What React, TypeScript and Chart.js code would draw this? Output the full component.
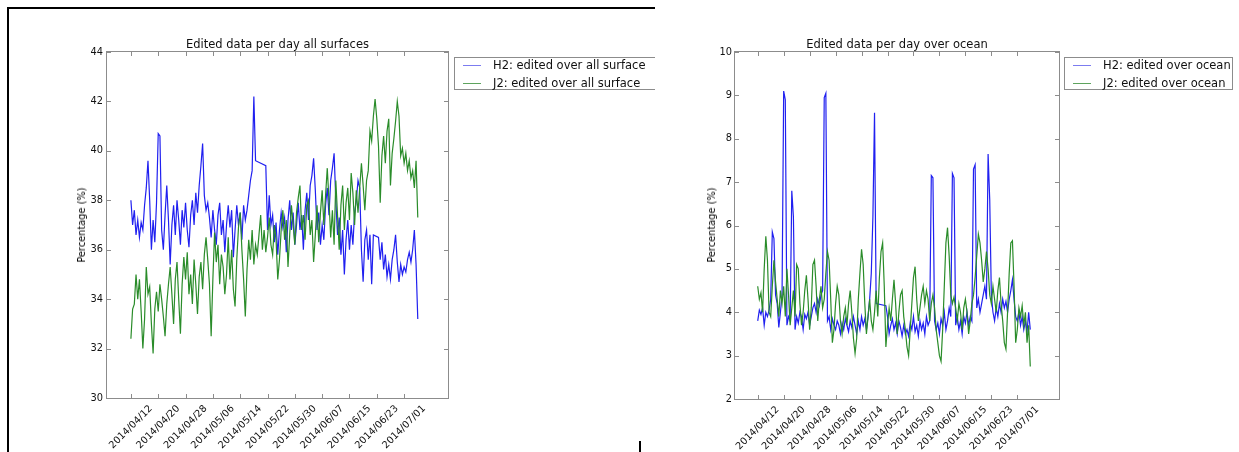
import React, { useEffect, useRef } from "react";
import { Chart, registerables } from "chart.js";

Chart.register(...registerables);

// ---------- data ----------
// samples every half day, starting 2014/04/12 (day 0); null = missing sample
const STEP_DAYS = 0.5;
const TICK_DAYS = [0, 8, 16, 24, 32, 40, 48, 56, 64, 72, 80];
const TICK_LABELS = [
  "2014/04/12", "2014/04/20", "2014/04/28", "2014/05/06", "2014/05/14", "2014/05/22",
  "2014/05/30", "2014/06/07", "2014/06/15", "2014/06/23", "2014/07/01",
];

const surfH2: (number | null)[] = [
  38.0, 37.0, 37.6, 36.6, 37.2, 36.5, 37.1, 36.8, 37.8, 38.5, 39.6, 38.0, 36.0, 37.2, 36.3, 37.9,
  40.7, 40.6, 36.8, 36.0, 37.4, 38.6, 37.2, 35.4, 37.0, 37.8, 36.6, 38.0, 37.2, 36.2, 37.6, 36.9,
  37.9, 36.8, 36.1, 37.4, 38.0, 37.0, 38.3, 37.5, 38.6, 39.4, 40.3, 38.2, 37.6, 37.9, 37.3, 36.5,
  37.6, 36.8, 36.2, 37.4, 37.9, 36.6, 37.2, 35.9, 37.0, 37.8, 36.9, 37.6, 35.7, 36.8, 37.8, 37.0,
  37.5, 36.4, 37.8, 37.2, 37.6, 38.2, 38.8, 39.2, 42.2, 39.6, null, null, null, null, null, 39.4,
  36.8, 38.2, 37.0, 37.4, 36.3, 37.1, 35.8, 36.8, 37.5, 36.9, 37.3, 35.9, 37.2, 38.0, 36.8, 37.5,
  36.2, 37.0, 37.9, 36.8, 37.4, 36.0, 37.6, 38.3, 37.2, 38.6, 39.0, 39.7, 38.4, 36.8, 37.5, 36.2,
  37.0, 36.4, 37.8, 38.5, 37.4, 38.8, 39.3, 39.9, 38.0, 36.6, 37.3, 35.8, 36.8, 35.0, 36.4, 37.2,
  36.0, 37.0, 36.2, 37.5, 38.0, 38.8, 38.5, 36.0, 34.7, 36.4, 36.8, 35.6, 36.6, 34.6, 36.6, null,
  null, 36.5, 35.6, 36.3, 35.2, 35.8, 34.9, 35.4, 34.8, 35.6, 36.0, 36.6, 35.5, 34.7, 35.4, 35.0,
  35.3, 35.1, 35.6, 35.9, 35.5, 36.0, 36.8, 35.4, 33.2,
];

const surfJ2: (number | null)[] = [
  32.4, 33.6, 33.8, 35.0, 34.0, 34.8, 33.5, 32.0, 33.2, 35.3, 34.2, 34.5, 33.0, 31.8, 33.6, 34.3,
  33.5, 34.6, 34.0, 33.3, 32.5, 33.8, 34.6, 35.3, 34.2, 33.0, 34.8, 35.5, 34.0, 32.6, 34.6, 35.7,
  34.8, 35.9, 34.2, 35.0, 33.8, 35.6, 34.6, 33.4, 34.9, 35.5, 34.4, 35.8, 36.5, 35.6, 34.6, 32.5,
  34.8, 36.7, 35.5, 36.2, 34.6, 35.8, 35.3, 34.2, 35.0, 36.5, 34.8, 36.0, 34.4, 33.7, 35.6, 36.9,
  37.5, 36.0, 34.8, 33.3, 35.2, 36.4, 35.6, 36.8, 35.4, 36.2, 35.8, 36.6, 37.4, 36.0, 36.8, 35.9,
  36.5, 37.3, 36.2, 35.8, 37.0, 36.4, 34.8, 35.6, 36.8, 37.6, 36.4, 37.2, 35.3, 36.6, 37.8, 37.0,
  36.2, 37.5, 38.1, 38.6, 36.8, 37.4, 36.4, 37.8, 38.0, 36.6, 37.2, 35.5, 36.6, 37.8, 36.3, 37.5,
  38.4, 37.0, 38.2, 39.3, 38.0, 36.5, 37.6, 36.2, 38.8, 37.4, 36.0, 37.8, 38.6, 36.8, 37.9, 38.5,
  37.2, 39.1, 38.3, 37.0, 38.4, 37.5, 38.5, 39.5, 38.6, 37.6, 38.8, 39.2, 40.8, 40.4, 41.4, 42.1,
  41.3, 40.2, 37.9, 39.8, 40.6, 39.5, 40.8, 41.3, 38.6, 39.9, 40.5, 41.2, 42.0, 41.4, 39.8, 40.1,
  39.5, 39.9, 39.2, 39.6, 38.9, 39.2, 38.5, 39.6, 37.3,
];

const oceanH2: (number | null)[] = [
  3.8, 4.05, 3.95, 4.1, 3.7, 4.0, 3.9, 4.05, 4.3, 5.85, 5.7, 4.4, 4.2, 3.65, 4.0, 4.4,
  9.1, 8.9, 3.7, 3.9, 3.8, 6.8, 6.2, 3.6, 3.9, 3.75, 4.0, 3.9, 3.6, 3.95, 3.85, 4.0,
  3.7, 3.9, 4.1, 4.2, 4.0, 4.3, 4.15, 4.4, 4.5, 8.95, 9.05, 3.8, 3.9, 3.6, 3.85, 3.7,
  3.6, 3.8, 3.7, 3.5, 3.75, 3.6, 3.85, 3.7, 3.55, 3.8, 3.65, 3.9, 3.7, 3.5, 3.8, 3.6,
  3.9, 3.7, 3.85, 3.6, 3.9, 4.3, 4.9, 6.2, 8.6, 4.2, null, null, null, null, null, 4.15,
  3.9, 3.5, 3.7, 3.85, 3.6, 3.75, 3.5, 3.8, 3.65, 3.45, 3.7, 3.5, 3.6, 3.45, 3.75, 3.6,
  3.9, 3.55, 3.7, 3.45, 3.8, 3.6, 3.75, 3.5, 3.9, 3.7, 3.8, 7.15, 7.1, 3.8, 3.6, 3.75,
  3.5, 3.85, 3.7, 4.0, 3.6, 3.8, 4.1, 3.9, 7.2, 7.1, 3.7, 3.9, 3.6, 3.8, 3.5, 3.9,
  3.75, 4.0, 3.7, 3.9, 3.8, 7.3, 7.4, 4.1, 4.3, 4.0, 4.2, 4.4, 4.6, 4.3, 7.65, 6.6,
  4.4, 4.0, 3.8, 4.1, 3.9, 4.2, 4.0, 4.3, 4.1, 4.25, 4.0, 4.3, 4.5, 4.75, 4.3, 3.9,
  3.8, 4.0, 3.7, 3.9, 3.6, 3.8, 3.55, 4.0, 3.6,
];

const oceanJ2: (number | null)[] = [
  4.6, 4.3, 4.45, 4.0, 5.0, 5.75, 5.2, 4.0, 3.9, 4.6, 5.2, 4.7, 4.3, 3.9, 4.5, 4.2,
  4.6, 3.9, 5.0, 4.4, 3.7, 4.1, 4.5, 3.9, 5.1, 5.0, 4.2, 3.7, 4.0, 4.5, 4.85, 4.3,
  3.6, 4.1, 5.1, 5.2, 4.6, 3.8, 4.3, 4.6, 4.1, 4.3, 4.9, 5.4, 5.2, 4.3, 3.3, 3.6,
  4.2, 4.6, 4.4, 3.8, 3.5, 3.9, 4.1, 3.7, 4.2, 4.5, 4.0, 3.4, 3.05, 3.4, 4.3, 4.9,
  5.45, 5.1, 4.2, 3.5, 3.9, 4.3, 3.8, 3.6, 4.0, 4.5, 3.9, 4.8, 5.4, 5.6, 4.6, 3.2,
  3.7, 4.1, 3.8, 4.3, 4.75, 4.2, 3.5, 4.0, 4.4, 4.5, 3.9, 3.6, 3.2, 3.0, 3.6, 4.2,
  4.8, 5.05, 4.3, 3.8, 4.1, 4.4, 4.6, 4.2, 4.5, 4.3, 3.8, 4.2, 4.4, 4.1, 3.6, 3.3,
  3.0, 2.87, 3.6, 4.6, 5.6, 5.95, 5.3, 4.4, 4.2, 4.35, 4.1, 3.8, 4.2, 4.0, 3.6, 4.1,
  4.3, 4.0, 3.5, 3.8, 4.2, 4.4, 4.8, 5.3, 5.8, 5.6, 5.2, 4.7, 5.0, 5.4, 5.0, 4.4,
  4.2, 4.6, 4.3, 4.0, 4.5, 4.8, 4.2, 3.8, 3.3, 3.15, 4.0, 4.9, 5.6, 5.65, 4.6, 3.3,
  3.6, 4.1, 3.9, 4.15, 3.7, 4.0, 3.3, 3.7, 2.75,
];

// ---------- styles ----------
const FONT = "'DejaVu Sans', 'Bitstream Vera Sans', sans-serif";
const BLUE = "#2020f0";
const GREEN = "#2a8c2a";
const BLUE_LEG = "#7c7cf0";
const GREEN_LEG = "#5ea45e";
const FRAME = "#8c8c8c";
const TEXT = "#111";

const toPoints = (vals: (number | null)[]) =>
  vals.map((y, i) => ({ x: i * STEP_DAYS, y }));

const framePlugin = {
  id: "mplFrame",
  afterDraw(chart: any) {
    const { ctx, chartArea: a, scales } = chart;
    ctx.save();
    ctx.strokeStyle = FRAME;
    ctx.lineWidth = 1;
    ctx.strokeRect(a.left - 0.5, a.top - 0.5, a.right - a.left + 1, a.bottom - a.top + 1);
    ctx.beginPath();
    for (const t of scales.x.ticks) {
      const px = Math.round(scales.x.getPixelForValue(t.value)) + 0.5;
      ctx.moveTo(px, a.bottom);
      ctx.lineTo(px, a.bottom - 4);
      ctx.moveTo(px, a.top);
      ctx.lineTo(px, a.top + 4);
    }
    for (const t of scales.y.ticks) {
      const py = Math.round(scales.y.getPixelForValue(t.value)) + 0.5;
      ctx.moveTo(a.left, py);
      ctx.lineTo(a.left + 4, py);
      ctx.moveTo(a.right, py);
      ctx.lineTo(a.right - 4, py);
    }
    ctx.stroke();
    ctx.restore();
  },
};

type PanelProps = {
  h2: (number | null)[];
  j2: (number | null)[];
  yMin: number;
  yMax: number;
  yStep: number;
  width: number;
  yAxisWidth: number;
  padRight: number;
  xAxisHeight: number;
  yPad: number;
};

function ChartCanvas(p: PanelProps) {
  const ref = useRef<HTMLCanvasElement | null>(null);
  useEffect(() => {
    if (!ref.current) return;
    const tickFont = { family: FONT, size: 9.8 };
    const chart = new Chart(ref.current, {
      type: "line",
      data: {
        datasets: [
          {
            label: "J2",
            data: toPoints(p.j2),
            borderColor: GREEN,
            borderWidth: 1.2,
            pointRadius: 0,
            spanGaps: true,
            tension: 0,
            order: 0,
          },
          {
            label: "H2",
            data: toPoints(p.h2),
            borderColor: BLUE,
            borderWidth: 1.2,
            pointRadius: 0,
            spanGaps: true,
            tension: 0,
            order: 1,
          },
        ],
      },
      options: {
        animation: false,
        responsive: false,
        maintainAspectRatio: false,
        devicePixelRatio: 1,
        layout: { padding: { left: 0, right: p.padRight, top: 52, bottom: 0 } },
        plugins: {
          legend: { display: false },
          tooltip: { enabled: false },
          title: { display: false },
        },
        scales: {
          x: {
            type: "linear",
            min: -7,
            max: 92.85,
            afterBuildTicks: (s: any) => {
              s.ticks = TICK_DAYS.map((v) => ({ value: v }));
            },
            afterFit: (s: any) => {
              s.height = p.xAxisHeight;
            },
            grid: { display: false, drawTicks: false },
            border: { display: false },
            ticks: {
              autoSkip: false,
              minRotation: 45,
              maxRotation: 45,
              labelOffset: 20,
              padding: 5,
              color: TEXT,
              font: tickFont,
              callback: (v: any) => {
                const i = TICK_DAYS.indexOf(Number(v));
                return i >= 0 ? TICK_LABELS[i] : "";
              },
            },
          },
          y: {
            min: p.yMin,
            max: p.yMax,
            afterFit: (s: any) => {
              s.width = p.yAxisWidth;
            },
            grid: { display: false, drawTicks: false },
            border: { display: false },
            ticks: { stepSize: p.yStep, padding: p.yPad, color: TEXT, font: tickFont },
          },
        },
      },
      plugins: [framePlugin],
    } as any);
    return () => chart.destroy();
  }, []);
  return <canvas ref={ref} width={p.width} height={452} style={{ display: "block" }} />;
}

function Legend({ left, width, labels }: { left: number; width: number; labels: string[] }) {
  const colors = [BLUE_LEG, GREEN_LEG];
  return (
    <div
      style={{
        position: "absolute",
        left,
        top: 57,
        width,
        height: 33,
        border: `1px solid ${FRAME}`,
        background: "#fff",
        boxSizing: "border-box",
      }}
    >
      {labels.map((lab, i) => (
        <React.Fragment key={lab}>
          <div
            style={{
              position: "absolute",
              left: 8,
              top: 7 + i * 17.5,
              width: 18,
              height: 1,
              background: colors[i],
            }}
          />
          <div
            style={{
              position: "absolute",
              left: 38,
              top: 0 + i * 17.5,
              fontFamily: FONT,
              fontSize: 11.5,
              lineHeight: "15px",
              color: TEXT,
              whiteSpace: "nowrap",
            }}
          >
            {lab}
          </div>
        </React.Fragment>
      ))}
    </div>
  );
}

function Title({ left, width, text }: { left: number; width: number; text: string }) {
  return (
    <div
      style={{
        position: "absolute",
        left,
        width,
        top: 37,
        textAlign: "center",
        fontFamily: FONT,
        fontSize: 11.5,
        lineHeight: "14px",
        color: TEXT,
        whiteSpace: "nowrap",
      }}
    >
      {text}
    </div>
  );
}

function YLabel({ cx, cy }: { cx: number; cy: number }) {
  return (
    <div
      style={{
        position: "absolute",
        left: cx,
        top: cy,
        transform: "translate(-50%, -50%) rotate(-90deg)",
        fontFamily: FONT,
        fontSize: 9.8,
        lineHeight: "12px",
        color: "#000",
        whiteSpace: "nowrap",
      }}
    >
      Percentage (%)
    </div>
  );
}

export default function App() {
  return (
    <div
      style={{
        position: "absolute",
        left: 0,
        top: 0,
        width: 1239,
        height: 452,
        background: "#fff",
        overflow: "hidden",
      }}
    >
      {/* left figure, clipped at x = 655 */}
      <div style={{ position: "absolute", left: 0, top: 0, width: 655, height: 452, overflow: "hidden" }}>
        <div style={{ position: "absolute", left: 0, top: 0 }}>
          <ChartCanvas
            h2={surfH2}
            j2={surfJ2}
            yMin={30}
            yMax={44}
            yStep={2}
            width={460}
            yAxisWidth={107}
            padRight={12}
            xAxisHeight={54}
            yPad={4}
          />
        </div>
        <Title left={107} width={341} text="Edited data per day all surfaces" />
        <YLabel cx={82} cy={225} />
        <Legend
          left={454}
          width={230}
          labels={["H2: edited over all surface", "J2: edited over all surface"]}
        />
      </div>

      {/* right figure */}
      <div style={{ position: "absolute", left: 660, top: 0 }}>
        <ChartCanvas
          h2={oceanH2}
          j2={oceanJ2}
          yMin={2}
          yMax={10}
          yStep={1}
          width={420}
          yAxisWidth={75}
          padRight={21}
          xAxisHeight={53}
          yPad={3}
        />
      </div>
      <Title left={735} width={324} text="Edited data per day over ocean" />
      <YLabel cx={712} cy={225} />
      <Legend left={1064} width={169} labels={["H2: edited over ocean", "J2: edited over ocean"]} />

      {/* screenshot frame remnants */}
      <div style={{ position: "absolute", left: 7, top: 7, width: 648, height: 2, background: "#000" }} />
      <div style={{ position: "absolute", left: 7, top: 7, width: 2, height: 445, background: "#000" }} />
      <div style={{ position: "absolute", left: 639, top: 441, width: 2, height: 11, background: "#000" }} />
    </div>
  );
}
